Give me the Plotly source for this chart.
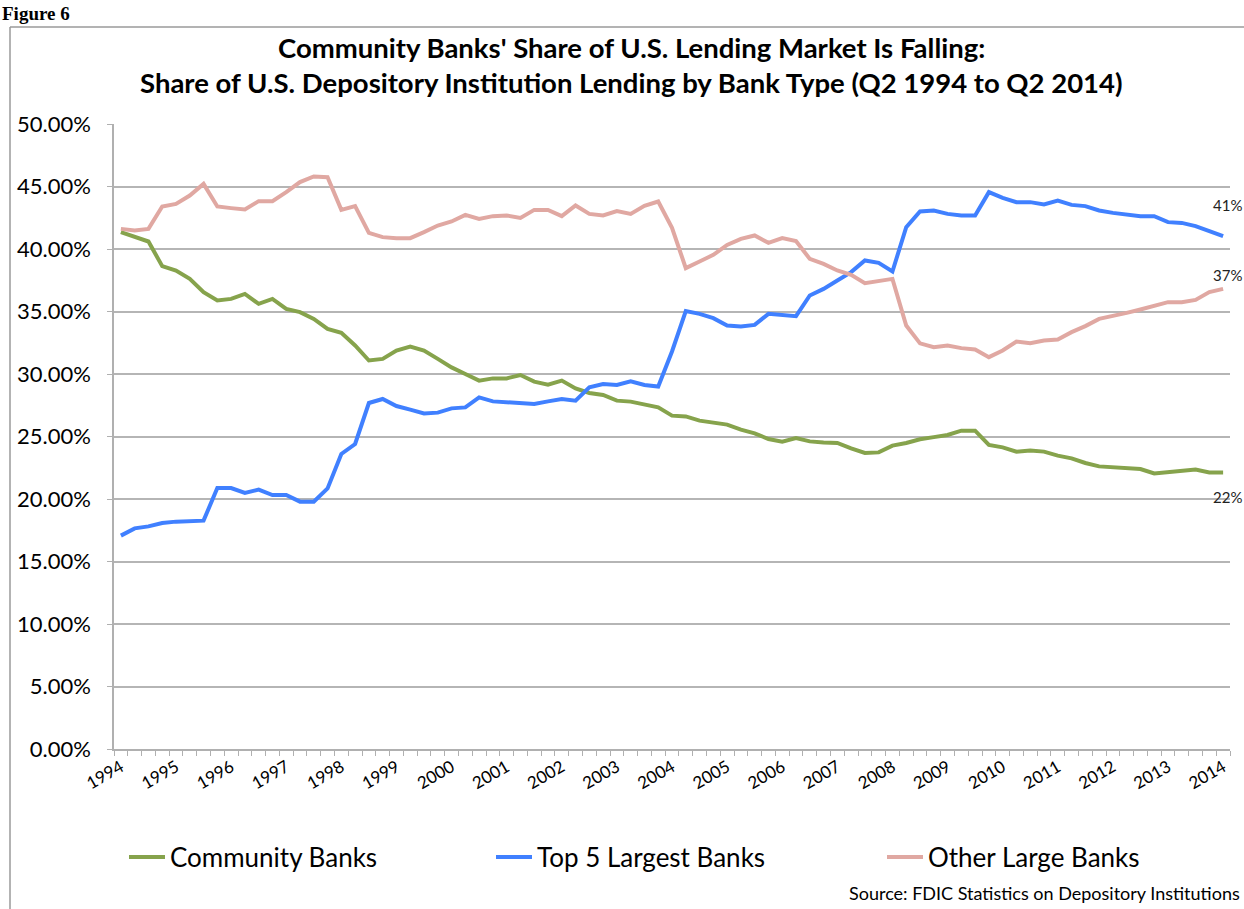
import plotly.graph_objects as go

# quarterly, Q2 1994 .. Q2 2014 (81 quarters), share of lending in %
community_banks = [
    41.35, 40.95, 40.60, 38.63, 38.28, 37.61, 36.55, 35.88, 36.01, 36.41,
    35.61, 36.01, 35.21, 34.95, 34.41, 33.61, 33.29, 32.28, 31.08, 31.21,
    31.88, 32.20, 31.88, 31.21, 30.53, 30.00, 29.47, 29.65, 29.65, 29.92,
    29.39, 29.15, 29.47, 28.85, 28.48, 28.32, 27.87, 27.79, 27.55, 27.33,
    26.67, 26.61, 26.27, 26.08, 25.95, 25.55, 25.25, 24.80, 24.59, 24.88,
    24.61, 24.53, 24.48, 24.05, 23.68, 23.73, 24.27, 24.48, 24.78, 24.95,
    25.12, 25.47, 25.47, 24.32, 24.13, 23.79, 23.87, 23.79, 23.47, 23.25,
    22.88, 22.61, 22.53, 22.53, 22.40, 22.05, 22.13, 22.27, 22.35, 22.13,
    22.13,
]
top5_banks = [
    17.07, 17.65, 17.81, 18.08, 18.19, 18.19, 18.27, 20.88, 20.88, 20.48,
    20.75, 20.32, 20.32, 19.79, 19.79, 20.85, 23.60, 24.40, 27.68, 28.00,
    27.44, 27.15, 26.85, 26.91, 27.25, 27.33, 28.13, 27.81, 27.73, 27.60,
    27.60, 27.81, 28.00, 27.87, 28.93, 29.20, 29.12, 29.41, 29.12, 29.00,
    31.80, 35.03, 34.81, 34.47, 33.88, 33.80, 33.93, 34.81, 34.68, 34.63,
    36.28, 36.81, 37.48, 38.15, 39.08, 38.89, 38.20, 41.75, 43.00, 43.08,
    42.81, 42.68, 42.68, 44.55, 44.09, 43.75, 43.75, 43.56, 43.88, 43.53,
    43.43, 43.08, 42.89, 42.76, 42.63, 42.63, 42.15, 42.09, 41.83, 41.43,
    41.03,
]
other_large_banks = [
    41.61, 41.48, 41.61, 43.40, 43.61, 44.28, 45.21, 43.40, 43.27, 43.16,
    43.83, 43.83, 44.55, 45.35, 45.80, 45.75, 43.13, 43.43, 41.29, 40.95,
    40.87, 40.87, 41.35, 41.88, 42.20, 42.73, 42.41, 42.63, 42.68, 42.49,
    43.13, 43.13, 42.63, 43.48, 42.81, 42.68, 43.03, 42.81, 43.45, 43.80,
    41.70, 38.47, 39.00, 39.53, 40.33, 40.81, 41.08, 40.49, 40.87, 40.63,
    39.21, 38.81, 38.28, 37.93, 37.27, 37.48, 37.61, 33.88, 32.45, 32.15,
    32.28, 32.07, 31.96, 31.35, 31.88, 32.60, 32.47, 32.68, 32.76, 33.35,
    33.83, 34.41, 34.63, 34.89, 35.16, 35.48, 35.75, 35.75, 35.93, 36.55,
    36.81,
]
years = [str(y) for y in range(1994, 2015)]
end_labels = ["22%", "41%", "37%"]

quarters = list(range(len(community_banks)))
year_pos = quarters[::4]

FONT = "Lato"
series = [
    ("Community Banks", community_banks, "#86A34C"),
    ("Top 5 Largest Banks", top5_banks, "#4080FF"),
    ("Other Large Banks", other_large_banks, "#E0A8A2"),
]
legend_ids = ["legend", "legend2", "legend3"]
legend_x = [124, 491, 882]   # px where each legend entry starts

fig = go.Figure()
for (name, vals, col), lg in zip(series, legend_ids):
    fig.add_trace(go.Scatter(x=quarters, y=vals, mode="lines", name=name,
                             legend=lg, line=dict(color=col, width=4)))

# plot area in px: x 114..1230, y 124..749
def px(x):
    return (x - 114) / 1116

def py(y):
    return (749 - y) / 625

annos = [
    dict(text="<b>Community Banks' Share of U.S. Lending Market Is Falling:</b>",
         x=px(631), y=py(47)),
    dict(text="<b>Share of U.S. Depository Institution Lending by Bank Type (Q2 1994 to Q2 2014)</b>",
         x=px(631), y=py(83)),
]
for a in annos:
    fig.add_annotation(xref="paper", yref="paper", showarrow=False,
                       xanchor="center", yanchor="middle",
                       font=dict(family=FONT, size=27.5, color="black"), **a)

shifts = [-25, 31, 14]
for (name, vals, col), lab, ys in zip(series, end_labels, shifts):
    fig.add_annotation(x=quarters[-1], y=vals[-1], text=lab, showarrow=False,
                       xanchor="left", yanchor="middle", xshift=-12, yshift=ys,
                       font=dict(family=FONT, size=15, color="#222"))

fig.add_annotation(xref="paper", yref="paper", x=px(1242), y=py(893),
                   text="Source: FDIC Statistics on Depository Institutions",
                   showarrow=False, xanchor="right", yanchor="middle",
                   font=dict(family=FONT, size=18, color="black"))
fig.add_annotation(xref="paper", yref="paper", x=px(0), y=py(1),
                   text="<b>Figure 6</b>", showarrow=False,
                   xanchor="left", yanchor="top",
                   font=dict(family="Liberation Serif", size=19, color="black"))

# outer frame (left and top edges visible)
fig.add_shape(type="line", xref="paper", yref="paper",
              x0=px(10), x1=px(10), y0=py(27), y1=py(915),
              line=dict(color="#9a9a9a", width=1.5))
fig.add_shape(type="line", xref="paper", yref="paper",
              x0=px(10), x1=px(1250), y0=py(27), y1=py(27),
              line=dict(color="#9a9a9a", width=1.5))

legends = {}
for lg, lx in zip(legend_ids, legend_x):
    legends[lg] = dict(orientation="h", xref="container", yref="container",
                       x=lx / 1244, y=1 - 857 / 909, xanchor="left",
                       yanchor="middle", font=dict(family=FONT, size=26),
                       itemwidth=36, bgcolor="rgba(0,0,0,0)")

fig.update_layout(
    width=1244, height=909,
    margin=dict(l=114, r=14, t=124, b=160, autoexpand=False),
    paper_bgcolor="white", plot_bgcolor="white",
    font=dict(family=FONT, color="black"),
    showlegend=True,
    xaxis=dict(range=[-0.5, 80.5], tickmode="array", tickvals=year_pos,
               ticktext=years, tickangle=-30, ticks="", showgrid=False,
               showline=True, linecolor="#b0b0b0", linewidth=1.5,
               tickfont=dict(family=FONT, size=17), zeroline=False,
               automargin=False,
               minor=dict(ticks="outside", tickmode="linear", tick0=-0.5,
                          dtick=1, ticklen=5, tickcolor="#b0b0b0",
                          showgrid=False)),
    yaxis=dict(range=[0, 50], dtick=5, tickformat=".2f", ticksuffix="%",
               showgrid=True, gridcolor="#b5b5b5", gridwidth=1.5,
               showline=True, linecolor="#b0b0b0", linewidth=1.5,
               ticks="outside", ticklen=5, tickcolor="#b0b0b0",
               ticklabelstandoff=12,
               tickfont=dict(family=FONT, size=22), zeroline=False,
               automargin=False),
    **legends,
)

# the page body has a default 8px margin; drop it so the figure sits at 0,0
fig.write_html("out.html", config={"displayModeBar": False},
               post_script="document.body.style.margin = '0px';")
